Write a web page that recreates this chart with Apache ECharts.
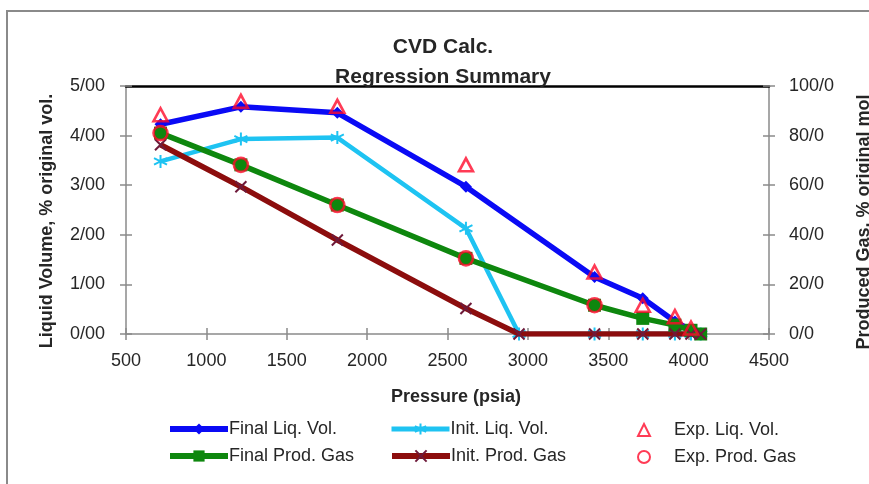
<!DOCTYPE html>
<html>
<head>
<meta charset="utf-8">
<script src="https://cdn.jsdelivr.net/npm/echarts@6/dist/echarts.min.js"></script>
<style>
html,body{margin:0;padding:0;background:#fff;}
#chart{width:869px;height:484px;}
</style>
</head>
<body>
<div id="chart"></div>
<script>
// ---- data ----
const pressure      = [714.7, 1214.7, 1814.7, 2614.7, 3414.7, 3714.7, 3914.7, 4014.7, 4075];
const finalLiqVol   = [4.23, 4.58, 4.46, 2.97, 1.15, 0.72, 0.25, 0.08, 0];
const finalProdGas  = [81.0, 68.2, 52.0, 30.5, 11.6, 6.3, 3.6, 1.5, 0];

const initPressure  = [714.7, 1214.7, 1814.7, 2614.7, 2945, 3414.7, 3714.7, 3914.7, 4014.7, 4075];
const initLiqVol    = [3.48, 3.93, 3.96, 2.13, 0, 0, 0, 0, 0, 0];
const initProdGas   = [76.3, 59.4, 37.9, 10.3, 0, 0, 0, 0, 0, 0];

const expLiqPressure  = [714.7, 1214.7, 1814.7, 2614.7, 3414.7, 3714.7, 3914.7, 4014.7];
const expLiqVol       = [4.42, 4.69, 4.59, 3.41, 1.25, 0.58, 0.35, 0.12];
const expGasPressure  = [714.7, 1214.7, 1814.7, 2614.7, 3414.7];
const expProdGas      = [81.0, 68.2, 52.0, 30.5, 11.6];

const xTicks = {min: 500, max: 4500, interval: 500};
const yLeftTicks = {min: 0, max: 5, interval: 1};
const yRightTicks = {min: 0, max: 100, interval: 20};

const seriesNames = ['Final Liq. Vol.', 'Init. Liq. Vol.', 'Exp. Liq. Vol.',
                     'Final Prod. Gas', 'Init. Prod. Gas', 'Exp. Prod. Gas'];

// ---- helpers ----
const zip = (xs, ys) => xs.map((x, i) => [x, ys[i]]);
const FONT = "'Liberation Sans', Arial, sans-serif";
const AXIS_GRAY = '#8a8a8a';
const TEXT = '#262626';
const BLUE = '#0a0af5', CYAN = '#1ec3f2', GREEN = '#0e870e', BROWN = '#8c0d0d', RED = '#ff0a2a';

const chart = echarts.init(document.getElementById('chart'), null, {renderer: 'canvas'});

const ASTERISK = 'path://M5,0L5,10M0.7,2.5L9.3,7.5M0.7,7.5L9.3,2.5';
const XMARK = 'path://M0,0L10,10M10,0L0,10';

function lineLegend(name, left, top, color, width) {
  return {
    data: [name], left: left, top: top, orient: 'horizontal',
    itemWidth: 58, itemHeight: 14, padding: 0, itemGap: 0,
    lineStyle: {width: width, color: color},
    textStyle: {fontSize: 18, fontFamily: FONT, color: TEXT, padding: [0, 0, 0, -4]}
  };
}
function markLegend(name, left, top) {
  return {
    data: [name], left: left, top: top, orient: 'horizontal',
    itemWidth: 12, itemHeight: 12, padding: 0, itemGap: 0,
    textStyle: {fontSize: 18, fontFamily: FONT, color: TEXT, padding: [0, 0, 0, 19]}
  };
}

const labelX = v => String(Math.round(v));
const labelLeft = v => v.toFixed(2).replace('.', '/');
const labelRight = v => v.toFixed(1).replace('.', '/');

const option = {
  backgroundColor: '#ffffff',
  animation: false,
  textStyle: {fontFamily: FONT},
  title: [
    {text: 'CVD Calc.', left: 443, top: 37, textAlign: 'center', padding: 0,
     textStyle: {fontSize: 21, fontWeight: 'bold', fontFamily: FONT, color: TEXT}},
    {text: 'Regression Summary', left: 443, top: 67, textAlign: 'center', padding: 0,
     textStyle: {fontSize: 21, fontWeight: 'bold', fontFamily: FONT, color: TEXT}}
  ],
  grid: {left: 126, right: 100, top: 86, bottom: 150, containLabel: false},
  xAxis: [
    {type: 'value', position: 'bottom', min: xTicks.min, max: xTicks.max, interval: xTicks.interval,
     axisLine: {onZero: false, lineStyle: {color: AXIS_GRAY, width: 1.5}},
     axisTick: {show: true, inside: false, length: 6, lineStyle: {color: AXIS_GRAY, width: 1.5}},
     axisLabel: {fontSize: 18, color: TEXT, margin: 18, fontFamily: FONT, formatter: labelX},
     splitLine: {show: false}},
    {type: 'value', position: 'bottom', min: xTicks.min, max: xTicks.max, interval: xTicks.interval,
     axisLine: {show: false},
     axisTick: {show: true, inside: true, length: 6, lineStyle: {color: AXIS_GRAY, width: 1.5}},
     axisLabel: {show: false}, splitLine: {show: false}},
    {type: 'value', position: 'top', min: xTicks.min, max: xTicks.max, interval: xTicks.interval,
     axisLine: {show: true, onZero: false, lineStyle: {color: '#000', width: 2.5}},
     axisTick: {show: false}, axisLabel: {show: false}, splitLine: {show: false}}
  ],
  yAxis: [
    {type: 'value', position: 'left', min: yLeftTicks.min, max: yLeftTicks.max, interval: yLeftTicks.interval,
     axisLine: {show: true, onZero: false, lineStyle: {color: AXIS_GRAY, width: 1.5}},
     axisTick: {show: true, inside: false, length: 6, lineStyle: {color: AXIS_GRAY, width: 1.5}},
     axisLabel: {fontSize: 18, color: TEXT, margin: 21, fontFamily: FONT, formatter: labelLeft},
     splitLine: {show: false}},
    {type: 'value', position: 'right', min: yRightTicks.min, max: yRightTicks.max, interval: yRightTicks.interval,
     axisLine: {show: true, onZero: false, lineStyle: {color: AXIS_GRAY, width: 1.5}},
     axisTick: {show: true, inside: false, length: 6, lineStyle: {color: AXIS_GRAY, width: 1.5}},
     axisLabel: {fontSize: 18, color: TEXT, margin: 20, fontFamily: FONT, formatter: labelRight},
     splitLine: {show: false}},
    {type: 'value', position: 'left', min: yLeftTicks.min, max: yLeftTicks.max, interval: yLeftTicks.interval,
     axisLine: {show: false},
     axisTick: {show: true, inside: true, length: 6, lineStyle: {color: AXIS_GRAY, width: 1.5}},
     axisLabel: {show: false}, splitLine: {show: false}},
    {type: 'value', position: 'right', min: yRightTicks.min, max: yRightTicks.max, interval: yRightTicks.interval,
     axisLine: {show: false},
     axisTick: {show: true, inside: true, length: 6, lineStyle: {color: AXIS_GRAY, width: 1.5}},
     axisLabel: {show: false}, splitLine: {show: false}}
  ],
  legend: [
    lineLegend(seriesNames[0], 167, 420, BLUE, 6),
    lineLegend(seriesNames[1], 389, 420, CYAN, 5),
    markLegend(seriesNames[2], 637, 421),
    lineLegend(seriesNames[3], 167, 447, GREEN, 6),
    lineLegend(seriesNames[4], 389, 447, BROWN, 6),
    markLegend(seriesNames[5], 637, 448)
  ],
  graphic: [
    {type: 'rect', silent: true, z: -10,
     shape: {x: 7, y: 11, width: 880, height: 490},
     style: {fill: 'none', stroke: '#8a8a8a', lineWidth: 2}},
    {type: 'text', x: 456, y: 397, silent: true,
     style: {text: 'Pressure (psia)', font: "bold 18px 'Liberation Sans', Arial, sans-serif",
             fill: TEXT, textAlign: 'center', textVerticalAlign: 'middle'}},
    {type: 'text', x: 47, y: 221, rotation: Math.PI / 2, silent: true,
     style: {text: 'Liquid Volume, % original vol.', font: "bold 18px 'Liberation Sans', Arial, sans-serif",
             fill: TEXT, textAlign: 'center', textVerticalAlign: 'middle'}},
    {type: 'text', x: 864, y: 222, rotation: Math.PI / 2, silent: true,
     style: {text: 'Produced Gas, % original mol', font: "bold 18px 'Liberation Sans', Arial, sans-serif",
             fill: TEXT, textAlign: 'center', textVerticalAlign: 'middle'}}
  ],
  series: [
    {name: seriesNames[0], type: 'line', xAxisIndex: 0, yAxisIndex: 0,
     data: zip(pressure, finalLiqVol), color: BLUE,
     lineStyle: {width: 5.5, color: BLUE}, symbol: 'diamond', symbolSize: 12,
     itemStyle: {color: BLUE}, z: 3},
    {name: seriesNames[1], type: 'line', xAxisIndex: 0, yAxisIndex: 0,
     data: zip(initPressure, initLiqVol), color: CYAN,
     lineStyle: {width: 4.5, color: CYAN}, symbol: ASTERISK, symbolSize: 13,
     itemStyle: {color: CYAN, borderColor: CYAN, borderWidth: 2}, z: 3},
    {name: seriesNames[3], type: 'line', xAxisIndex: 0, yAxisIndex: 1,
     data: zip(pressure, finalProdGas), color: GREEN,
     lineStyle: {width: 5.5, color: GREEN}, symbol: 'rect', symbolSize: 13,
     itemStyle: {color: GREEN}, z: 4},
    {name: seriesNames[4], type: 'line', xAxisIndex: 0, yAxisIndex: 1,
     data: zip(initPressure, initProdGas), color: BROWN,
     lineStyle: {width: 5.5, color: BROWN}, symbol: XMARK, symbolSize: 11,
     itemStyle: {color: BROWN, borderColor: '#6e1a3a', borderWidth: 2}, z: 4},
    {name: seriesNames[2], type: 'scatter', xAxisIndex: 0, yAxisIndex: 0,
     data: zip(expLiqPressure, expLiqVol), symbol: 'triangle', symbolSize: [14, 13],
     itemStyle: {color: 'rgba(255,255,255,0)', borderColor: RED, borderWidth: 2.6}, z: 6},
    {name: seriesNames[5], type: 'scatter', xAxisIndex: 0, yAxisIndex: 1,
     data: zip(expGasPressure, expProdGas), symbol: 'circle', symbolSize: 14,
     itemStyle: {color: 'rgba(255,255,255,0)', borderColor: RED, borderWidth: 2.6}, z: 6}
  ]
};
chart.setOption(option);
</script>
</body>
</html>
